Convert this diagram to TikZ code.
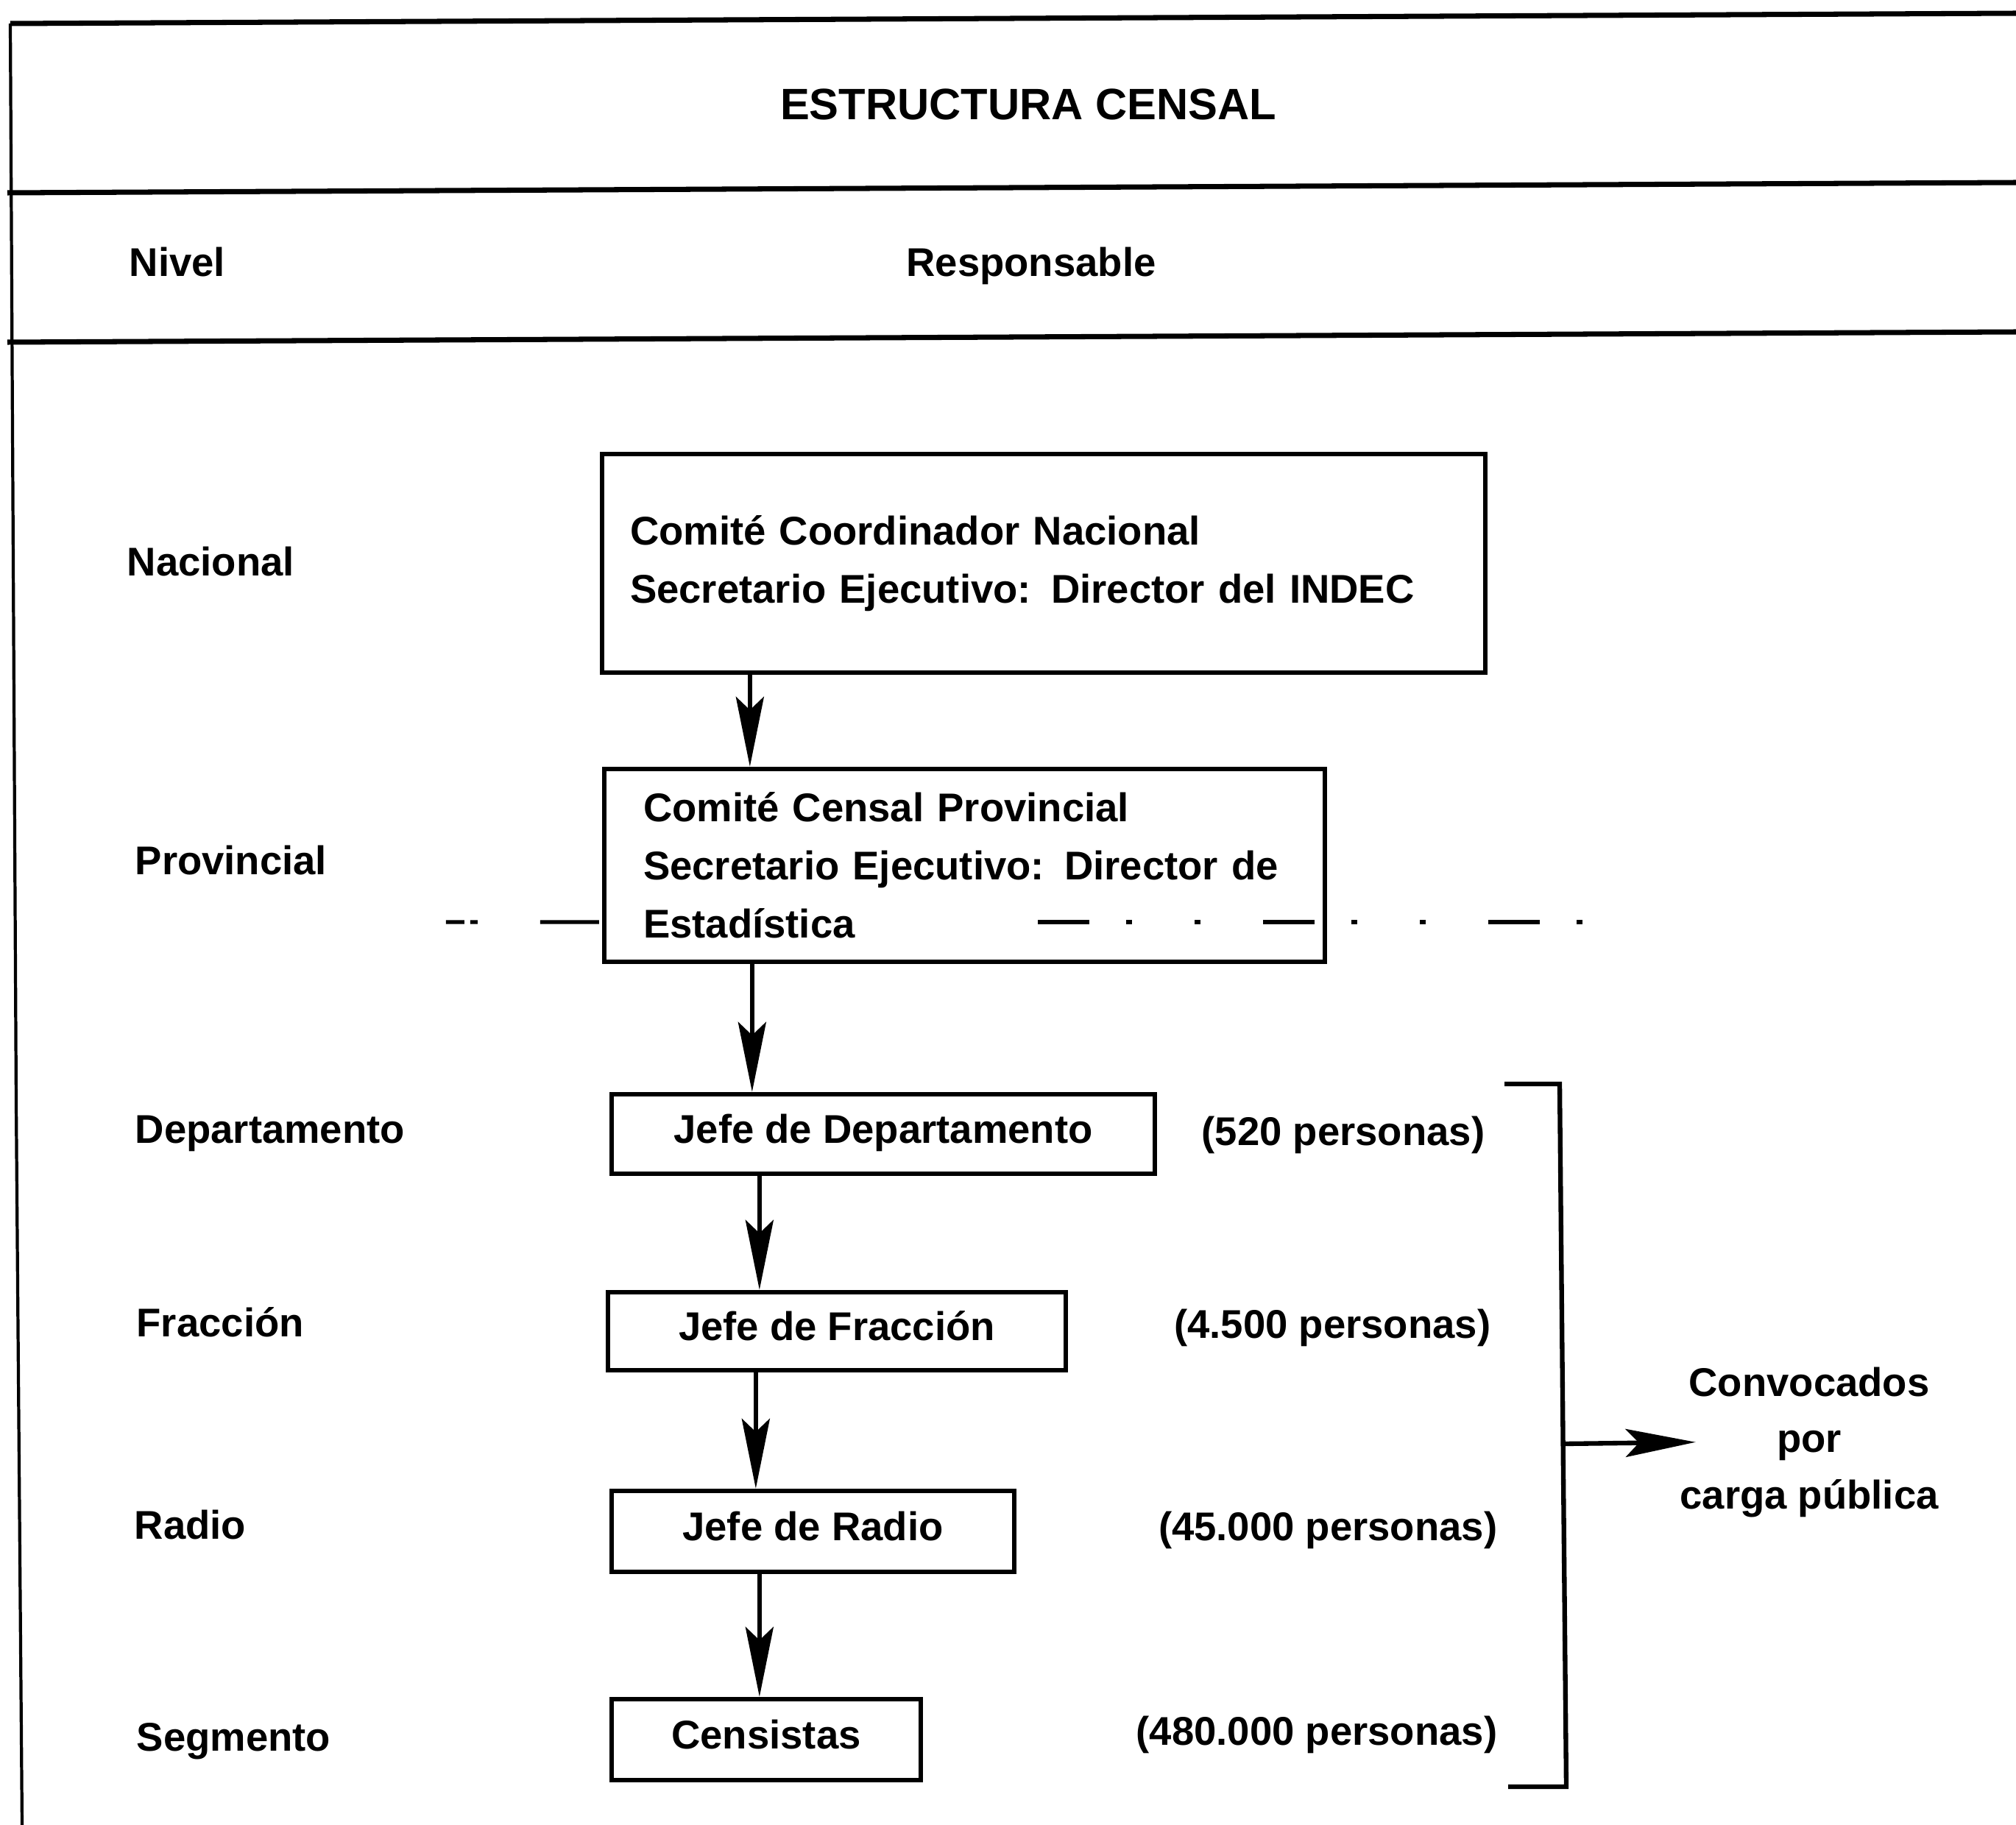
\documentclass[tikz,border=0pt]{standalone}
\usepackage{fontspec}
\setmainfont{Liberation Sans}
\usetikzlibrary{arrows.meta}
\usetikzlibrary{positioning}
\usetikzlibrary{calc}
\tikzset{basic box/.style={draw,line width=1.8pt,inner sep=0pt}}
\tikzset{jefe box/.style={basic box,text height=0.72em,text depth=0pt}}
\tikzset{level/.style={anchor=west,inner sep=0pt,text height=0.72em,text depth=0pt}}
\tikzset{flow/.style={draw,
                      line width=1.8pt,
                      -{Stealth[length=0.95cm,width=0.38cm,inset=0.18cm]}}}
\tikzset{rule/.style={draw,line width=2pt}}
\newcommand{\censfont}{\fontsize{15.5}{22.5}\selectfont\bfseries}

\begin{document}
\begin{tikzpicture}
  [
    every node/.style={font=\censfont},
  ]
    \useasboundingbox (0,0) rectangle (27.39,-24.80);

    % frame
    \path [rule] (0.14,-0.32) -- (27.39,-0.18);
    \path [rule] (0.10,-2.62) -- (27.39,-2.48);
    \path [rule] (0.10,-4.65) -- (27.39,-4.51);
    \draw [line width=1.2pt] (0.14,-0.32) -- (0.22,-15) -- (0.30,-24.80);

    % headings
    \node (title) [font=\fontsize{17}{20}\selectfont\bfseries,anchor=base] at (13.97,-1.63) {ESTRUCTURA CENSAL};
    \node (nivel) [level] at (1.75,-3.63) {Nivel};
    \node (resp) [level,anchor=center] at (14.01,-3.63) {Responsable};

    % levels
    \foreach \n/\x/\y/\l in
      {
        nac/1.72/7.70/Nacional,
        prov/1.83/11.76/Provincial,
        dep/1.83/15.41/Departamento,
        frac/1.85/18.04/Fracción,
        radio/1.82/20.79/Radio,
        cens/1.85/23.67/Segmento}
    {
    \node (l\n) [level] at (\x,-\y) {\l};
    }

    % boxes
    \node (nac) [basic box,minimum width=12cm,minimum height=2.97cm,text width=11.24cm,align=left]
      at (14.18,-7.655) {Comité Coordinador Nacional\\Secretario Ejecutivo: Director del INDEC};
    \node (prov) [basic box,minimum width=9.79cm,minimum height=2.62cm,text width=8.73cm,align=left]
      at (13.105,-11.76) {Comité Censal Provincial\\Secretario Ejecutivo: Director de\\Estadística};

    \foreach \n/\x/\y/\w/\h/\t in
      {
        dep/12.00/15.41/7.38/1.08/Jefe de Departamento,
        frac/11.37/18.09/6.22/1.06/Jefe de Fracción,
        radio/11.045/20.81/5.47/1.10/Jefe de Radio,
        cens/10.41/23.64/4.20/1.10/Censistas}
    {
    \node (\n) [jefe box,minimum width=\w cm,minimum height=\h cm] at (\x,-\y) {\t};
    }

    % counts
    \foreach \n/\x/\y/\t in
      {
        dep/20.18/15.44/520,
        frac/20.26/18.06/4.500,
        radio/20.35/20.81/45.000,
        cens/20.35/23.59/480.000}
    {
    \node (c\n) [level,anchor=east] at (\x,-\y) {(\t\ personas)};
    }

    % edges
    \foreach \a/\b in {nac/prov,prov/dep,dep/frac,frac/radio,radio/cens}
    {
    \draw [flow] ([xshift=2.04cm]\a.south west) -- ([xshift=2.04cm]\a.south west |- \b.north);
    }

    % level line
    \draw [line width=1.5pt,dash pattern=on 0.25cm off 0.08cm on 0.1cm off 0.85cm on 0.8cm]
      ([shift={(-2.12,-0.77)}]prov.west) -- ([yshift=-0.77cm]prov.west);
    \draw [line width=1.5pt,dash pattern=on 0.7cm off 0.5cm on 0.08cm off 0.85cm on 0.08cm off 0.85cm]
      ([shift={(-3.93,-0.77)}]prov.east) -- ([shift={(3.93,-0.77)}]prov.east);

    % bracket
    \draw [line width=1.8pt] (20.44,-14.73) -- (21.19,-14.73) -- (21.28,-24.28) -- (20.49,-24.28);
    \coordinate (brk) at (21.24,-19.62);

    \node (conv) [align=center,inner sep=0pt,font=\fontsize{15.5}{21.9}\selectfont\bfseries]
      at (24.58,-19.60) {Convocados\\por\\carga pública};
    \draw [flow,shorten >=-0.22cm] (brk) -- (conv.west);

  \end{tikzpicture}
\end{document}
